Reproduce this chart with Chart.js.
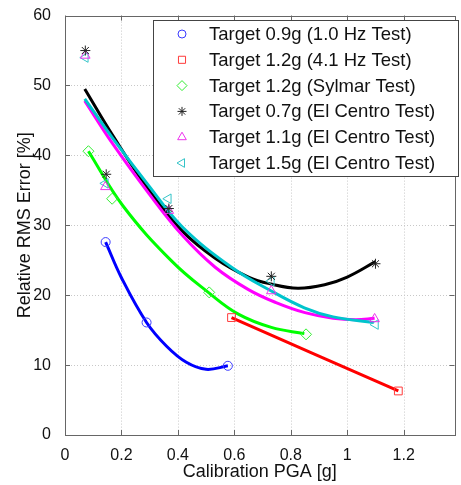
<!DOCTYPE html>
<html>
<head>
<meta charset="utf-8">
<script src="https://cdn.jsdelivr.net/npm/chart.js@4.4.1/dist/chart.umd.min.js"></script>
<style>
  html, body { margin: 0; padding: 0; background: #fff; }
  #wrap { width: 461px; height: 485px; }
</style>
</head>
<body>
<div id="wrap"><canvas id="chart" width="461" height="485"></canvas></div>
<script>
// Series labels, as in the legend
const labels = [
  'Target 0.9g (1.0 Hz Test)',
  'Target 1.2g (4.1 Hz Test)',
  'Target 1.2g (Sylmar Test)',
  'Target 0.7g (El Centro Test)',
  'Target 1.1g (El Centro Test)',
  'Target 1.5g (El Centro Test)'
];

// Measured points (x = calibration PGA [g], y = RMS error [%])
const blueX = [0.144, 0.289, 0.577];
const blueY = [27.6, 16.1, 9.9];
const redX = [0.59, 1.181];
const redY = [16.8, 6.3];
const greenX = [0.083, 0.167, 0.511, 0.854];
const greenY = [40.6, 33.8, 20.4, 14.4];
const blackX = [0.072, 0.146, 0.368, 0.731, 1.1];
const blackY = [55.0, 37.3, 32.4, 22.7, 24.5];
const magentaX = [0.072, 0.143, 0.368, 0.731, 1.097];
const magentaY = [54.3, 35.5, 32.1, 20.6, 16.6];
const cyanX = [0.072, 0.143, 0.366, 0.731, 1.1];
const cyanY = [54.0, 36.0, 33.8, 22.0, 15.8];

// Fitted curves
const blueFitX = [0.144, 0.2, 0.289, 0.36, 0.43, 0.5, 0.577];
const blueFitY = [27.6, 22.5, 16.1, 12.7, 10.4, 9.4, 9.9];
const redFitX = [0.59, 1.181];
const redFitY = [16.8, 6.3];
const greenFitX = [0.083, 0.205, 0.38, 0.511, 0.614, 0.731, 0.848];
const greenFitY = [40.6, 32.8, 24.8, 20.3, 17.3, 15.4, 14.5];
const blackFitX = [0.07, 0.17, 0.298, 0.415, 0.532, 0.65, 0.73, 0.825, 0.92, 1.0, 1.1];
const blackFitY = [49.5, 42.8, 35.0, 29.2, 25.3, 22.6, 21.6, 21.0, 21.5, 22.6, 24.8];
const magentaFitX = [0.07, 0.17, 0.298, 0.415, 0.532, 0.65, 0.75, 0.85, 0.95, 1.03, 1.097];
const magentaFitY = [47.8, 41.6, 34.5, 28.6, 24.0, 20.8, 18.9, 17.5, 16.7, 16.5, 16.7];
const cyanFitX = [0.07, 0.17, 0.298, 0.415, 0.59, 0.731, 0.848, 0.95, 1.094];
const cyanFitY = [48.1, 42.4, 35.6, 29.8, 24.0, 20.6, 18.2, 16.9, 16.1];

// Tick values
const xTicks = [0, 0.2, 0.4, 0.6, 0.8, 1, 1.2];
const yTicks = [0, 10, 20, 30, 40, 50, 60];

const colors = ['#0000ff', '#ff0000', '#00ff00', '#000000', '#ff00ff', '#00c4cc'];
const markerColors = ['#3b3bff', '#ff3b3b', '#33ee33', '#222222', '#ee33ee', '#33c4c8'];
const styles = ['circle', 'rect', 'rectRot', 'star', 'triangle', 'triangle'];
const rotations = [0, 0, 0, 0, 0, -90];
const radii = [4.5, 5.5, 5.5, 5, 5.5, 5.5];

function pts(xs, ys) {
  return xs.map((x, i) => ({ x: x, y: ys[i] }));
}

const markerSets = [
  pts(blueX, blueY), pts(redX, redY), pts(greenX, greenY),
  pts(blackX, blackY), pts(magentaX, magentaY), pts(cyanX, cyanY)
];
const fitSets = [
  pts(blueFitX, blueFitY), pts(redFitX, redFitY), pts(greenFitX, greenFitY),
  pts(blackFitX, blackFitY), pts(magentaFitX, magentaFitY), pts(cyanFitX, cyanFitY)
];

const datasets = [];
fitSets.forEach((d, i) => {
  datasets.push({
    label: '',
    data: d,
    showLine: true,
    borderColor: colors[i],
    borderWidth: 3,
    pointRadius: 0,
    tension: 0.4,
    order: 10 - i   // later series drawn on top, like the original
  });
});
markerSets.forEach((d, i) => {
  datasets.push({
    label: labels[i],
    data: d,
    showLine: false,
    pointStyle: styles[i],
    pointRotation: rotations[i],
    pointRadius: radii[i],
    pointBorderWidth: 1,
    pointBorderColor: markerColors[i],
    pointBackgroundColor: 'rgba(0,0,0,0)',
    order: 1
  });
});

const FONT = '"Liberation Sans", Arial, sans-serif';

// dotted grid, frame, inward ticks and a boxed legend inside the plot
const framePlugin = {
  id: 'frame',
  beforeDatasetsDraw(chart) {
    const ctx = chart.ctx;
    const a = chart.chartArea;
    const xs = chart.scales.x, ys = chart.scales.y;
    ctx.save();
    ctx.strokeStyle = '#c8c8c8';
    ctx.lineWidth = 1;
    ctx.setLineDash([1, 2]);
    ctx.beginPath();
    xTicks.forEach(v => {
      const px = Math.round(xs.getPixelForValue(v)) + 0.5;
      ctx.moveTo(px, a.top); ctx.lineTo(px, a.bottom);
    });
    yTicks.forEach(v => {
      const py = Math.round(ys.getPixelForValue(v)) + 0.5;
      ctx.moveTo(a.left, py); ctx.lineTo(a.right, py);
    });
    ctx.stroke();
    ctx.restore();
  },
  afterDraw(chart) {
    const ctx = chart.ctx;
    const a = chart.chartArea;
    const xs = chart.scales.x, ys = chart.scales.y;
    ctx.save();
    ctx.strokeStyle = '#666';
    ctx.lineWidth = 1;
    ctx.strokeRect(Math.round(a.left) + 0.5, Math.round(a.top) + 0.5,
      Math.round(a.right - a.left), Math.round(a.bottom - a.top));
    ctx.beginPath();
    xTicks.forEach(v => {
      const px = Math.round(xs.getPixelForValue(v)) + 0.5;
      ctx.moveTo(px, a.bottom); ctx.lineTo(px, a.bottom - 5);
      ctx.moveTo(px, a.top); ctx.lineTo(px, a.top + 5);
    });
    yTicks.forEach(v => {
      const py = Math.round(ys.getPixelForValue(v)) + 0.5;
      ctx.moveTo(a.left, py); ctx.lineTo(a.left + 5, py);
      ctx.moveTo(a.right, py); ctx.lineTo(a.right - 5, py);
    });
    ctx.stroke();

    // legend
    const bx = 153, by = 20, bw = 305, bh = 156;
    ctx.fillStyle = '#fff';
    ctx.fillRect(bx, by, bw, bh);
    ctx.strokeStyle = '#444';
    ctx.strokeRect(bx + 0.5, by + 0.5, bw, bh);
    ctx.font = '18.5px ' + FONT;
    ctx.textBaseline = 'middle';
    labels.forEach((lab, i) => {
      const y = 34 + i * 25.8;
      ctx.strokeStyle = markerColors[i];
      ctx.fillStyle = 'rgba(0,0,0,0)';
      ctx.lineWidth = 1;
      Chart.helpers.drawPoint(ctx, {
        pointStyle: styles[i], radius: radii[i] - 0.5, rotation: rotations[i], borderWidth: 1
      }, 182, y);
      ctx.fillStyle = '#111';
      ctx.fillText(lab, 209, y + 1);
    });
    ctx.restore();
  }
};

new Chart(document.getElementById('chart'), {
  type: 'scatter',
  data: { datasets: datasets },
  options: {
    responsive: false,
    animation: false,
    layout: { padding: { top: 15, right: 2, left: 0, bottom: 0 } },
    plugins: { legend: { display: false }, tooltip: { enabled: false } },
    scales: {
      x: {
        type: 'linear',
        min: 0,
        max: 1.38,
        afterFit: s => { s.height = 50; },
        afterBuildTicks: s => { s.ticks = xTicks.map(v => ({ value: v })); },
        ticks: {
          padding: 3,
          color: '#111',
          font: { family: FONT, size: 16 },
          callback: v => String(Math.round(v * 10) / 10)
        },
        grid: { display: false },
        border: { display: false },
        title: {
          display: true,
          text: 'Calibration PGA [g]',
          color: '#111',
          font: { family: FONT, size: 18 },
          padding: { top: 0, bottom: 2 }
        }
      },
      y: {
        type: 'linear',
        min: 0,
        max: 60,
        afterFit: s => { s.width = 65; },
        afterBuildTicks: s => { s.ticks = yTicks.map(v => ({ value: v })); },
        ticks: {
          padding: 6,
          color: '#111',
          font: { family: FONT, size: 16 }
        },
        grid: { display: false },
        border: { display: false },
        title: {
          display: true,
          text: 'Relative RMS Error [%]',
          color: '#111',
          font: { family: FONT, size: 18 },
          padding: { top: 14, bottom: 0 }
        }
      }
    }
  },
  plugins: [framePlugin]
});
</script>
</body>
</html>
